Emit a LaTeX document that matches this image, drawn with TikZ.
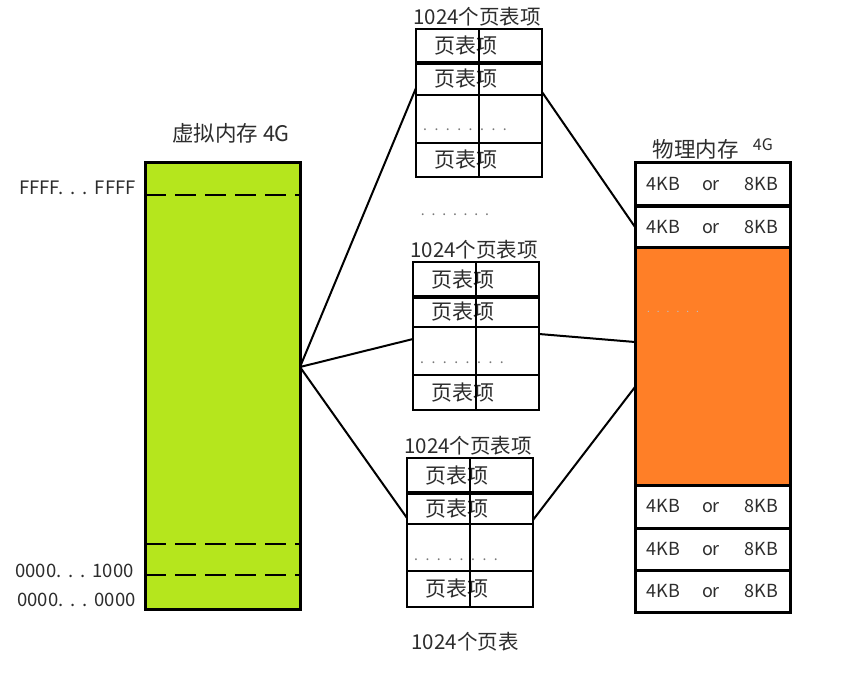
\documentclass[tikz,border=0pt]{standalone}
\usepackage{fontspec}
\setmainfont{Noto Sans CJK SC}
\usepackage{tikz}
\usetikzlibrary{positioning, calc}
\definecolor{vmgreen}{RGB}{181,230,29}
\definecolor{pmorange}{RGB}{255,127,39}
\definecolor{txtgray}{RGB}{45,45,45}
\definecolor{dotgray}{RGB}{120,120,120}
\definecolor{odotgray}{RGB}{190,190,200}
\tikzset{
  entry/.style={rectangle, draw=black, line width=2.8pt, minimum width=126pt,
    inner sep=0pt, outer sep=0pt, font=\fontsize{21}{22}\selectfont, text=txtgray},
  frame/.style={rectangle, draw=black, line width=3pt, minimum width=155pt,
    inner sep=0pt, outer sep=0pt, font=\fontsize{18}{20}\selectfont, text=txtgray},
  title/.style={font=\fontsize{20.5}{22}\selectfont, text=txtgray, inner sep=0pt},
  addr/.style={font=\fontsize{18.5}{20}\selectfont, text=txtgray, inner sep=0pt, anchor=east},
  tdots/.style={font=\fontsize{14}{14}\selectfont, text=dotgray, inner sep=0pt},
  seam/.style={line width=4.5pt},
  divider/.style={line width=2.5pt},
  split/.style={dash pattern=on 21pt off 9pt, line width=2.8pt},
  link/.style={line width=2pt}
}
\newcommand{\pte}{页表项\hspace{26pt}\mbox{}}
\newcommand{\kb}{4KB\hspace{22pt}or\hspace{25pt}8KB}
\newcommand{\addrdots}{.\hspace{7pt}.\hspace{7pt}.\hspace{7pt}}
\newcommand{\dotrow}[2]{\foreach \i in {1,...,#1}{\ifnum\i>1\hspace{#2}\fi.}}

\begin{document}
\begin{tikzpicture}[x=1pt, y=-1pt]
  \fill[white] (0,0) rectangle (851,676);
  \useasboundingbox (0,0) rectangle (851,676);
  % Virtual memory
  \node[frame, fill=vmgreen, minimum height=446pt] (vm) at (222.5,386) {};
  \node[title, font=\fontsize{21.5}{22}\selectfont] (vmtitle) at (231,133) {虚拟内存 4G};
  \draw[split] ([yshift=-32pt]vm.north west) -- ([yshift=-32pt]vm.north east);
  \draw[split] ([yshift=65pt]vm.south west) -- ([yshift=65pt]vm.south east);
  \draw[split] ([yshift=34pt]vm.south west) -- ([yshift=34pt]vm.south east);
  \node[addr] (hiaddr) at (136,188) {FFFF\addrdots FFFF};
  \node[addr] (pgaddr) at (134,571) {0000\addrdots 1000};
  \node[addr] (loaddr) at (136,600) {0000\addrdots 0000};
  % Page table 1
  \node[entry, minimum height=34pt] (t1r1) at (479,46) {\pte};
  \node[entry, minimum height=32pt, below=0pt of t1r1] (t1r2) {\pte};
  \node[entry, minimum height=48pt, below=0pt of t1r2] (t1r3) {};
  \node[entry, minimum height=34pt, below=0pt of t1r3] (t1r4) {\pte};
  \node[tdots] (t1dots) at ([xshift=-14pt, yshift=-11pt]t1r3.center) {\dotrow{8}{7.5pt}};
  \node[title, above=3pt of t1r1, xshift=-2pt] (t1title) {1024个页表项};
  \draw[seam] (t1r1.south west) -- (t1r1.south east);
  \draw[divider] (t1r1.north) -- (t1r4.south);
  % Gap between tables
  \node[tdots] (gap) at (455,215) {\dotrow{7}{6.8pt}};
  % Page table 2
  \node[entry, minimum height=35pt] (t2r1) at (476,279.5) {\pte};
  \node[entry, minimum height=30pt, below=0pt of t2r1] (t2r2) {\pte};
  \node[entry, minimum height=48pt, below=0pt of t2r2] (t2r3) {};
  \node[entry, minimum height=35pt, below=0pt of t2r3] (t2r4) {\pte};
  \node[tdots] (t2dots) at ([xshift=-14pt, yshift=-12pt]t2r3.center) {\dotrow{8}{7.5pt}};
  \node[title, above=3pt of t2r1, xshift=-2pt] (t2title) {1024个页表项};
  \draw[seam] (t2r1.south west) -- (t2r1.south east);
  \draw[divider] (t2r1.north) -- (t2r4.south);
  % Page table 3
  \node[entry, minimum height=35pt] (t3r1) at (470,475.5) {\pte};
  \node[entry, minimum height=31pt, below=0pt of t3r1] (t3r2) {\pte};
  \node[entry, minimum height=47pt, below=0pt of t3r2] (t3r3) {};
  \node[entry, minimum height=36pt, below=0pt of t3r3] (t3r4) {\pte};
  \node[tdots] (t3dots) at ([xshift=-14pt, yshift=-12pt]t3r3.center) {\dotrow{8}{7.5pt}};
  \node[title, above=3pt of t3r1, xshift=-2pt] (t3title) {1024个页表项};
  \draw[seam] (t3r1.south west) -- (t3r1.south east);
  \draw[divider] (t3r1.north) -- (t3r4.south);
  \node[title, below=25pt of t3r4, xshift=-5pt] (ptcount) {1024个页表};
  % Physical memory
  \node[frame, minimum height=43pt] (pm1) at (712.5,184.5) {\kb};
  \node[frame, minimum height=42pt, below=0pt of pm1] (pm2) {\kb};
  \node[frame, fill=pmorange, minimum height=237pt, below=0pt of pm2] (pm3) {};
  \node[frame, minimum height=43pt, below=0pt of pm3] (pm4) {\kb};
  \node[frame, minimum height=42pt, below=0pt of pm4] (pm5) {\kb};
  \node[frame, minimum height=42pt, below=0pt of pm5] (pm6) {\kb};
  \draw[seam] (pm1.south west) -- (pm1.south east);
  \node[tdots, text=odotgray, font=\fontsize{10}{10}\selectfont] (pmdots)
    at ([xshift=-39.5pt, yshift=54.5pt]pm3.center) {\dotrow{6}{7pt}};
  \node[title, font=\fontsize{21.5}{22}\selectfont, above=4pt of pm1, xshift=-17pt] (pmtitle) {物理内存};
  \node[title, font=\fontsize{16}{17}\selectfont, right=14pt of pmtitle, yshift=4pt] (pmsize) {4G};
  % Connectors
  \coordinate (vmport) at ([yshift=19pt]vm.east);
  \draw[link] (vmport) -- ([yshift=-9pt]t1r2.west);
  \draw[link] (vmport) -- ([yshift=12pt]t2r3.west);
  \draw[link] (vmport) -- ([yshift=-9.5pt]t3r2.west);
  \draw[link] ([yshift=-13pt]t1r2.east) -- (pm2.west);
  \draw[link] ([yshift=17pt]t2r3.east) -- ([yshift=24.5pt]pm3.west);
  \draw[link] ([yshift=-11.5pt]t3r2.east) -- ([yshift=-20.5pt]pm3.west);
\end{tikzpicture}
\end{document}
